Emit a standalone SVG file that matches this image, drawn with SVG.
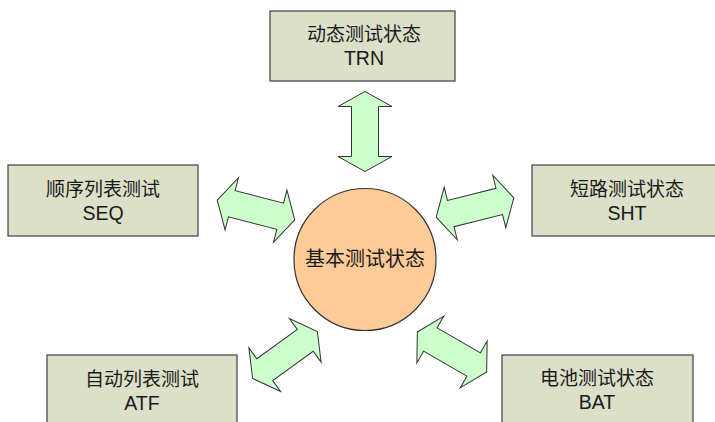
<svg xmlns="http://www.w3.org/2000/svg" width="715" height="422" viewBox="0 0 715 422">
<defs>
<style>
.box{fill:#dde0c9;stroke:#404040;stroke-width:1.2}
.hub{fill:#ffcc99;stroke:#333333;stroke-width:1.2}
.arr{fill:#ccffcc;stroke:#333333;stroke-width:1}
text{font-family:"Noto Sans CJK SC","Noto Sans",sans-serif;font-size:19px;fill:#1a1a1a;text-anchor:middle}
text.lat{font-family:"Liberation Sans","Noto Sans",sans-serif;font-size:19.5px}
</style>
<polygon id="dbl" points="-40,0 -25,-27 -25,-13.5 25,-13.5 25,-27 40,0 25,27 25,13.5 -25,13.5 -25,27"/>
</defs>
<rect width="715" height="422" fill="#ffffff"/>
<g id="connectors">
<use href="#dbl" class="arr" transform="translate(365,131.5) rotate(90)"/>
<use href="#dbl" class="arr" transform="translate(256,210) rotate(14.4)"/>
<use href="#dbl" class="arr" transform="translate(475,207.5) rotate(-14)"/>
<use href="#dbl" class="arr" transform="translate(285,355) rotate(-36)"/>
<use href="#dbl" class="arr" transform="translate(452,352) rotate(30)"/>
</g>
<g id="hub">
<circle class="hub" cx="365" cy="259.5" r="71"/>
<text x="365" y="265.5" style="font-size:20px">基本测试状态</text>
</g>
<g id="trn">
<rect class="box" x="270" y="11" width="185" height="70"/>
<text x="364" y="41">动态测试状态</text>
<text class="lat" x="364" y="65">TRN</text>
</g>
<g id="seq">
<rect class="box" x="8" y="165" width="190" height="71"/>
<text x="103" y="196">顺序列表测试</text>
<text class="lat" x="103" y="220">SEQ</text>
</g>
<g id="sht">
<rect class="box" x="532" y="165" width="190" height="71"/>
<text x="627" y="196">短路测试状态</text>
<text class="lat" x="627" y="220">SHT</text>
</g>
<g id="atf">
<rect class="box" x="47" y="355" width="190" height="80"/>
<text x="142" y="386">自动列表测试</text>
<text class="lat" x="142" y="410">ATF</text>
</g>
<g id="bat">
<rect class="box" x="502" y="355" width="191" height="80"/>
<text x="597" y="385">电池测试状态</text>
<text class="lat" x="597" y="409">BAT</text>
</g>
</svg>
